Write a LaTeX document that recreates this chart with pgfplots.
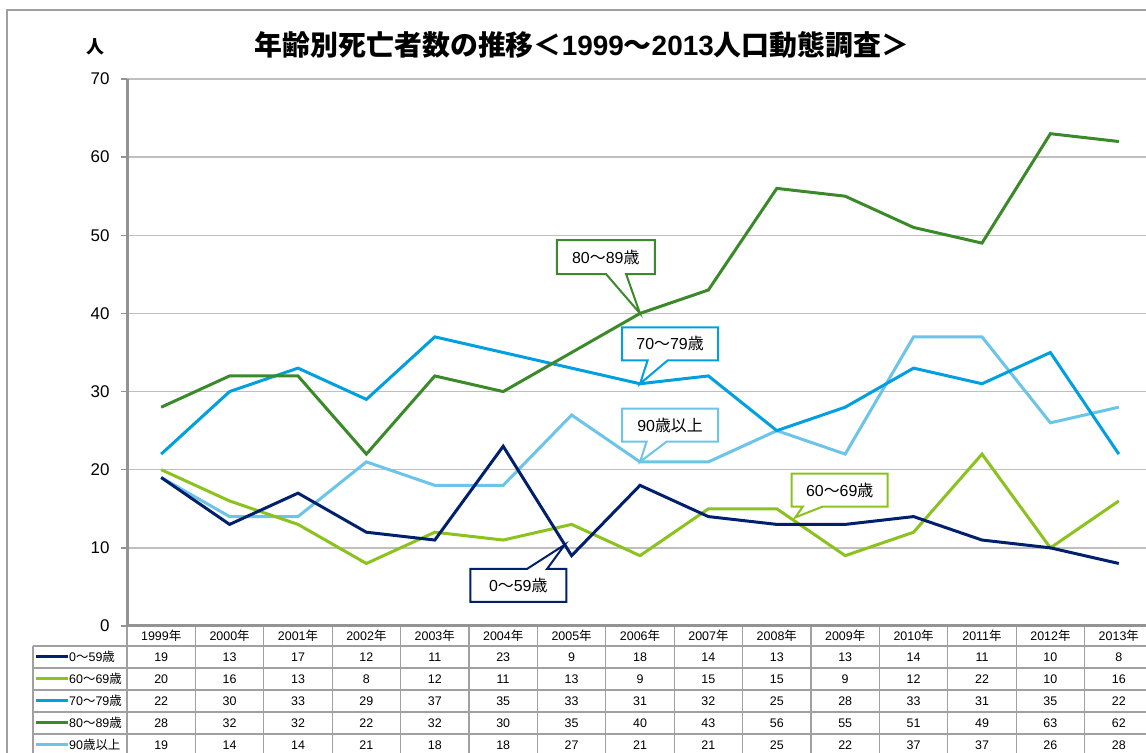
\documentclass[border=0pt]{standalone}
\usepackage{fontspec}
\setmainfont{Liberation Sans}
\newfontfamily\jp{Noto Sans CJK JP}
\usepackage{pgfplots}
\usepackage{pgfplotstable}
\pgfplotsset{compat=1.18}
\usetikzlibrary{shapes.callouts}

\definecolor{cA}{RGB}{0,32,110}
\definecolor{cB}{RGB}{140,194,30}
\definecolor{cC}{RGB}{0,160,224}
\definecolor{cD}{RGB}{58,138,42}
\definecolor{cE}{RGB}{108,197,232}
\definecolor{tline}{RGB}{160,160,160}

\newcommand{\ns}{{\jp 〜}}
\newcommand{\sai}{{\jp 歳}}
\newcommand{\tbl}{\fontsize{12.5}{13}\selectfont}
\newcommand{\cfont}{\fontsize{16}{16}\selectfont}

% x = year index (0 = 1999)
\pgfplotstableread{
x a b c d e
0 19 20 22 28 19
1 13 16 30 32 14
2 17 13 33 32 14
3 12 8 29 22 21
4 11 12 37 32 18
5 23 11 35 30 18
6 9 13 33 35 27
7 18 9 31 40 21
8 14 15 32 43 21
9 13 15 25 56 25
10 13 9 28 55 22
11 14 12 33 51 37
12 11 22 31 49 37
13 10 10 35 63 26
14 8 16 22 62 28
}\data

\begin{document}
\begin{tikzpicture}[x=1bp,y=1bp]
\useasboundingbox (0,0) rectangle (1146,753);
\clip (0,0) rectangle (1146,753);
\fill[white] (0,0) rectangle (1146,753);
\draw[tline, line width=1.5bp] (7,-5) -- (7,743) -- (1160,743);

\node[font=\fontsize{28}{28}\selectfont\bfseries] at (582,708)
  {{\jp 年齢別死亡者数の推移＜}1999{\jp 〜}2013{\jp 人口動態調査＞}};
\node[font=\fontsize{18}{18}\selectfont\bfseries\jp] at (95,706) {人};

\begin{axis}[
  at={(127bp,127bp)}, anchor=south west,
  scale only axis, width=1026bp, height=547bp,
  xmin=-0.5, xmax=14.5, ymin=0, ymax=70,
  xtick=\empty, ytick={0,10,...,70},
  axis x line*=bottom, axis y line*=left,
  axis line style={-, draw=gray!85, line width=3bp},
  ymajorgrids, grid style={gray!50, line width=1.5bp},
  tick align=outside, major tick length=6bp,
  tick style={gray!85, line width=1.5bp},
  yticklabel style={font=\fontsize{17}{17}\selectfont, xshift=-8bp,
    /pgf/number format/assume math mode=true},
  clip=false,
  every axis plot/.append style={line width=3bp, mark=none},
]
\addplot[cE] table[x=x,y=e]{\data};
\addplot[cC] table[x=x,y=c]{\data};
\addplot[cD] table[x=x,y=d]{\data};
\addplot[cB] table[x=x,y=b]{\data};
\addplot[cA] table[x=x,y=a]{\data};

\tikzset{co/.style={rectangle callout, line width=2bp, fill=white,
  minimum width=96bp, minimum height=33bp, font=\cfont,
  callout pointer width=20bp}}
\node[co, draw=cD, minimum width=98bp, minimum height=34bp,
  callout absolute pointer={(axis cs:7,40)}]
  at (axis cs:6.5,47.2) {80\ns89\sai};
\node[co, draw=cC, callout absolute pointer={(axis cs:7,31)}]
  at (axis cs:7.44,36.1) {70\ns79\sai};
\node[co, draw=cE, callout absolute pointer={(axis cs:7,21)}]
  at (axis cs:7.44,25.7) {90{\jp 歳以上}};
\node[co, draw=cB, callout absolute pointer={(axis cs:9.27,13.9)}]
  at (axis cs:9.92,17.4) {60\ns69\sai};
\node[co, draw=cA, callout absolute pointer={(axis cs:5.9,10.4)}]
  at (axis cs:5.22,5.2) {0\ns59\sai};
\end{axis}

% data table below the plot
\foreach \k in {0,...,15}
  \draw[tline, line width=1.2bp] ({127+68.4*\k},126) -- ({127+68.4*\k},-2);
\foreach \yy in {107,85,63,41,19}
  \draw[tline, line width=1.2bp] (33,\yy) -- (1160,\yy);
\draw[tline, line width=1.2bp] (33,107) -- (33,-2);

\foreach \i in {0,...,14}{
  \pgfmathsetmacro\cx{127+68.4*(\i+0.5)}
  \pgfmathtruncatemacro\yr{1999+\i}
  \node[font=\tbl] at (\cx,117) {\yr{\jp 年}};
  \foreach \c/\yy in {a/96,b/74,c/52,d/30,e/8}{
    \pgfplotstablegetelem{\i}{\c}\of\data
    \node[font=\tbl] at (\cx,\yy) {\pgfplotsretval};
  }
}

\foreach \col/\yy/\lab in {cA/96/{0\ns59\sai}, cB/74/{60\ns69\sai},
    cC/52/{70\ns79\sai}, cD/30/{80\ns89\sai}, cE/8/{90{\jp 歳以上}}}{
  \draw[\col, line width=3bp] (36,\yy) -- (68,\yy);
  \node[anchor=west, font=\tbl, inner sep=0] at (69,\yy) {\lab};
}
\end{tikzpicture}
\end{document}
